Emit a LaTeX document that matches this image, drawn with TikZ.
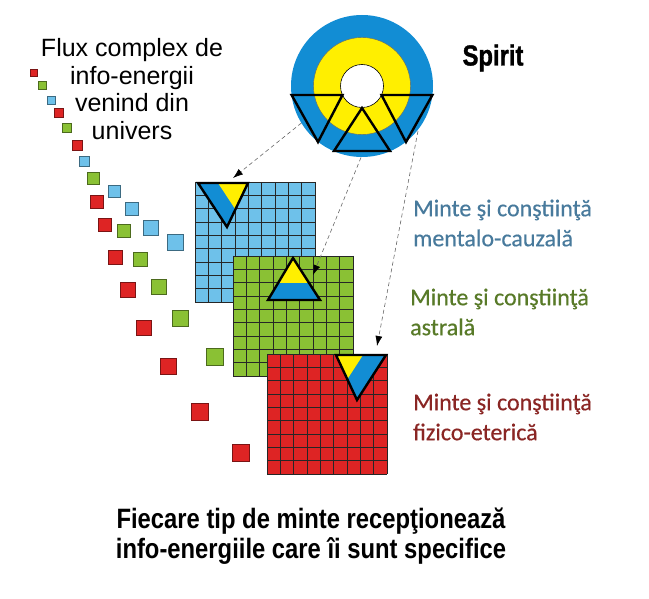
\documentclass[tikz,border=0pt]{standalone}
\usepackage{fontspec}
\setmainfont{Liberation Sans}
\newfontfamily\labelfont[FakeBold=0.5]{Carlito}
\newfontfamily\narrowfont[FakeStretch=0.85]{Liberation Sans}
\newfontfamily\blackfont[FakeStretch=0.82,FakeBold=1.2]{Liberation Sans}
\usetikzlibrary{arrows.meta}
\definecolor{ringblue}{RGB}{18,141,212}
\definecolor{ringyellow}{RGB}{255,239,0}
\definecolor{sqblue}{RGB}{110,193,234}
\definecolor{sqgreen}{RGB}{138,193,52}
\definecolor{sqred}{RGB}{222,36,36}
\definecolor{txtblue}{RGB}{72,122,156}
\definecolor{txtgreen}{RGB}{88,122,40}
\definecolor{txtred}{RGB}{138,38,36}

\begin{document}
\begin{tikzpicture}[x=1pt,y=-1pt]
    \tikzstyle{flow}=[draw=black!60,line width=0.6pt,dash pattern=on 4pt off 3pt,-{Latex[black,length=10pt,width=7pt]}]
    \tikzstyle{emblem}=[draw=black,line width=2.4pt,line join=miter]
    \tikzstyle{gridline}=[draw=black!85,line width=0.8pt]
    \tikzstyle{bit}=[line width=0.7pt]
    \tikzstyle{label}=[font=\labelfont\fontsize{24}{30}\selectfont,anchor=west,align=left,inner sep=0]
    \tikzstyle{heading}=[font=\narrowfont\bfseries\fontsize{28}{30}\selectfont,align=center,inner sep=0]

    \useasboundingbox (0,0) rectangle (649,599);

    \foreach \bx/\by/\bs/\bc in {34/73/7/sqred, 42/85/8/sqgreen, 51/100/8/sqblue, 59/113/9/sqred,
        67/128/9/sqgreen, 77/145/10/sqred, 84/161/10/sqblue, 93/178/12/sqgreen, 114/191/12/sqblue,
        97/202/13/sqred, 132/209/13.5/sqblue, 105/225/13.5/sqred, 124/231/13.5/sqgreen,
        151/228/15/sqblue, 175/242/16/sqblue, 115/257/14/sqred, 140/259/14/sqgreen,
        128/290/15/sqred, 159/287/15/sqgreen, 144/328/15.5/sqred, 180/318/16/sqgreen,
        168/366/16/sqred, 215/357/17/sqgreen, 200/412/17/sqred, 241/453/17.5/sqred}
        \filldraw[bit,fill=\bc,draw=\bc!55!black] (\bx-\bs/2,\by-\bs/2) rectangle (\bx+\bs/2,\by+\bs/2);

    \foreach \gx/\gy/\gc in {195/182/sqblue, 233/256/sqgreen, 267/354/sqred} {
        \fill[\gc] (\gx,\gy) rectangle (\gx+120,\gy+120);
        \foreach \k in {0,...,9} {
            \draw[gridline] (\gx+\k*13.333,\gy) -- (\gx+\k*13.333,\gy+120);
            \draw[gridline] (\gx,\gy+\k*13.333) -- (\gx+120,\gy+\k*13.333);
        }
    }

    \fill[ringblue] (362,86) circle (71pt);
    \filldraw[fill=ringyellow,draw=black!60,line width=0.4pt] (362,86) circle (48.5pt);
    \filldraw[fill=white,draw=black,line width=0.6pt] (362,86) circle (21.5pt);
    \draw[emblem] (291.6,95) -- (342.5,95) -- (318,142) -- cycle;
    \draw[emblem] (381.5,95) -- (432.4,95) -- (406,142) -- cycle;
    \draw[emblem] (362,108) -- (334,151) -- (390,151) -- cycle;

    \fill[ringblue] (198,183) -- (248,183) -- (227,227) -- cycle;
    \fill[ringyellow] (218,183) -- (248,183) -- (235.4,209.4) -- cycle;
    \draw[emblem] (198,183) -- (248,183) -- (227,227) -- cycle;

    \fill[ringblue] (293,258) -- (268,300) -- (320,300) -- cycle;
    \fill[ringyellow] (293,258) -- (278.1,283) -- (309.1,283) -- cycle;
    \draw[emblem] (293,258) -- (268,300) -- (320,300) -- cycle;

    \fill[ringblue] (336,355) -- (386,355) -- (357,400) -- cycle;
    \fill[ringyellow] (336,355) -- (363,355) -- (347.3,379.3) -- cycle;
    \draw[emblem] (336,355) -- (386,355) -- (357,400) -- cycle;

    \coordinate (spiritA) at (301.4,123);
    \coordinate (spiritB) at (361,157.5);
    \coordinate (spiritC) at (418,131);
    \coordinate (mentTip) at (233,178);
    \coordinate (astTip) at (313,275);
    \coordinate (fizTip) at (377,346);
    \draw[flow] (spiritA) -- (mentTip);
    \draw[flow] (spiritB) -- (astTip);
    \draw[flow] (spiritC) -- (fizTip);

    \node[font=\fontsize{25}{27.7}\selectfont,align=center,inner sep=0] (fluxtext) at (132,89) {Flux complex de\\info-energii\\venind din\\univers};
    \node[font=\blackfont\bfseries\fontsize{29}{30}\selectfont,inner sep=0] (spirit) at (493,58) {Spirit};

    \node[label,text=txtblue] (mentlabel) at (413,223) {Minte şi conştiinţă\\mentalo-cauzală};
    \node[label,text=txtgreen] (astlabel) at (410,312) {Minte şi conştiinţă\\astrală};
    \node[label,text=txtred] (fizlabel) at (413,417) {Minte şi conştiinţă\\fizico-eterică};

    \node[heading] (caption) at (311,536) {Fiecare tip de minte recepţionează\\info-energiile care îi sunt specifice};
\end{tikzpicture}
\end{document}
